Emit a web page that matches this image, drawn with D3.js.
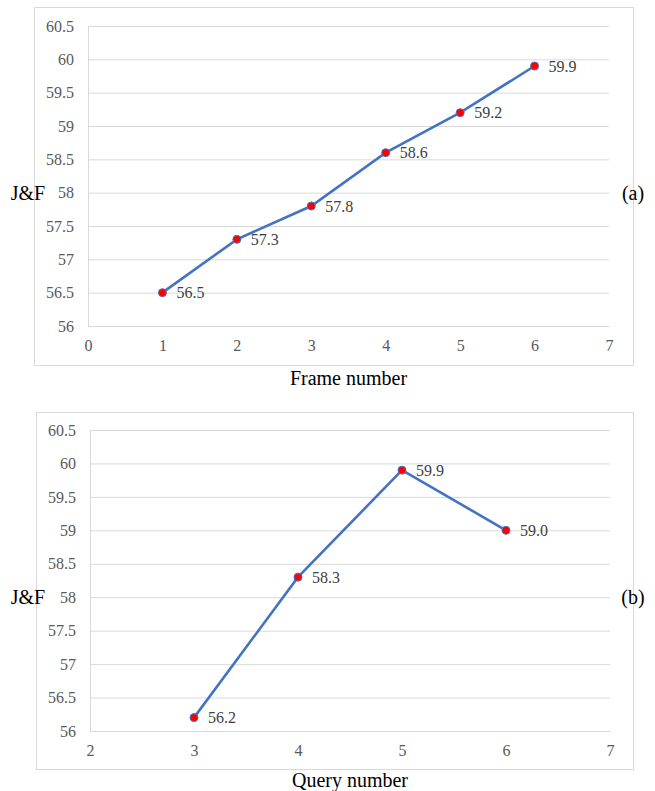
<!DOCTYPE html>
<html><head><meta charset="utf-8">
<script src="https://cdn.jsdelivr.net/npm/d3@7"></script>
<style>body{margin:0;background:#fff}svg{display:block}svg text{font-family:"Liberation Serif","Times New Roman",serif !important}</style>
</head><body>
<script>
const framesA = [1, 2, 3, 4, 5, 6];
const valuesA = [56.5, 57.3, 57.8, 58.6, 59.2, 59.9];
const labelsA = ["56.5", "57.3", "57.8", "58.6", "59.2", "59.9"];
const xTicksA = [0, 1, 2, 3, 4, 5, 6, 7];

const queriesB = [3, 4, 5, 6];
const valuesB = [56.2, 58.3, 59.9, 59.0];
const labelsB = ["56.2", "58.3", "59.9", "59.0"];
const xTicksB = [2, 3, 4, 5, 6, 7];

const yTicks = [56, 56.5, 57, 57.5, 58, 58.5, 59, 59.5, 60, 60.5];

const svg = d3.select("body").append("svg").attr("width", 655).attr("height", 791);

function panel(cfg) {
  const g = svg.append("g");
  g.append("rect").attr("x", cfg.box[0] + 0.5).attr("y", cfg.box[1] + 0.5)
    .attr("width", cfg.box[2] - cfg.box[0]).attr("height", cfg.box[3] - cfg.box[1])
    .attr("fill", "#fff").attr("stroke", "#d9d9d9");
  const x = d3.scaleLinear().domain(cfg.xDomain).range([cfg.plot[0], cfg.plot[2]]);
  const y = d3.scaleLinear().domain([56, 60.5]).range([cfg.plot[3], cfg.plot[1]]);
  const ya = g.append("g").attr("transform", `translate(${cfg.plot[0]},0)`)
    .call(d3.axisLeft(y).tickValues(yTicks).tickSize(-(cfg.plot[2] - cfg.plot[0])).tickPadding(14)
      .tickFormat(d => d3.format("")(d)));
  ya.select(".domain").attr("stroke", "#d9d9d9").attr("stroke-width", 1);
  ya.selectAll(".tick line").attr("stroke", "#d9d9d9").attr("stroke-width", 1);
  ya.selectAll(".tick text").attr("fill", "#595959").style("font-size", "16px");
  const xa = g.append("g").attr("transform", `translate(0,${cfg.plot[3]})`)
    .call(d3.axisBottom(x).tickValues(cfg.xTicks).tickSize(0).tickPadding(14).tickFormat(d3.format("d")));
  xa.select(".domain").attr("stroke", "#d9d9d9");
  xa.selectAll(".tick text").attr("fill", "#595959").style("font-size", "16px");

  const pts = cfg.xs.map((d, i) => ({x: d, y: cfg.ys[i], l: cfg.labels[i]}));
  g.append("path").datum(pts)
    .attr("d", d3.line().x(d => x(d.x)).y(d => y(d.y)))
    .attr("fill", "none").attr("stroke", "#4472c4").attr("stroke-width", 2.6);
  g.selectAll("circle").data(pts).join("circle")
    .attr("cx", d => x(d.x)).attr("cy", d => y(d.y)).attr("r", 4)
    .attr("fill", "#ff0000").attr("stroke", "#4472c4").attr("stroke-width", 1);
  g.selectAll("text.lbl").data(pts).join("text").attr("class", "lbl")
    .attr("x", d => x(d.x) + 14).attr("y", d => y(d.y)).attr("dy", "0.35em")
    .attr("fill", "#404040").style("font-size", "16px").text(d => d.l);

  const cx = (cfg.plot[0] + cfg.plot[2]) / 2;
  const sideY = y(58);
  svg.append("text").attr("x", cx).attr("y", cfg.titleY).attr("text-anchor", "middle")
    .style("font-size", "20px").attr("fill", "#000").text(cfg.title);
  svg.append("text").attr("x", 28).attr("y", sideY).attr("text-anchor", "middle").attr("dy", "0.35em")
    .style("font-size", "20px").attr("fill", "#000").text("J&F");
  svg.append("text").attr("x", 633).attr("y", sideY).attr("text-anchor", "middle").attr("dy", "0.35em")
    .style("font-size", "20px").attr("fill", "#000").text(cfg.tag);
}

panel({box: [34, 7, 633, 365], plot: [88, 26, 609, 326], xDomain: [0, 7], xTicks: xTicksA,
  xs: framesA, ys: valuesA, labels: labelsA, title: "Frame number", titleY: 385, tag: "(a)"});
panel({box: [36, 412, 633, 769], plot: [90, 430, 610, 731], xDomain: [2, 7], xTicks: xTicksB,
  xs: queriesB, ys: valuesB, labels: labelsB, title: "Query number", titleY: 787, tag: "(b)"});
</script>
</body></html>
